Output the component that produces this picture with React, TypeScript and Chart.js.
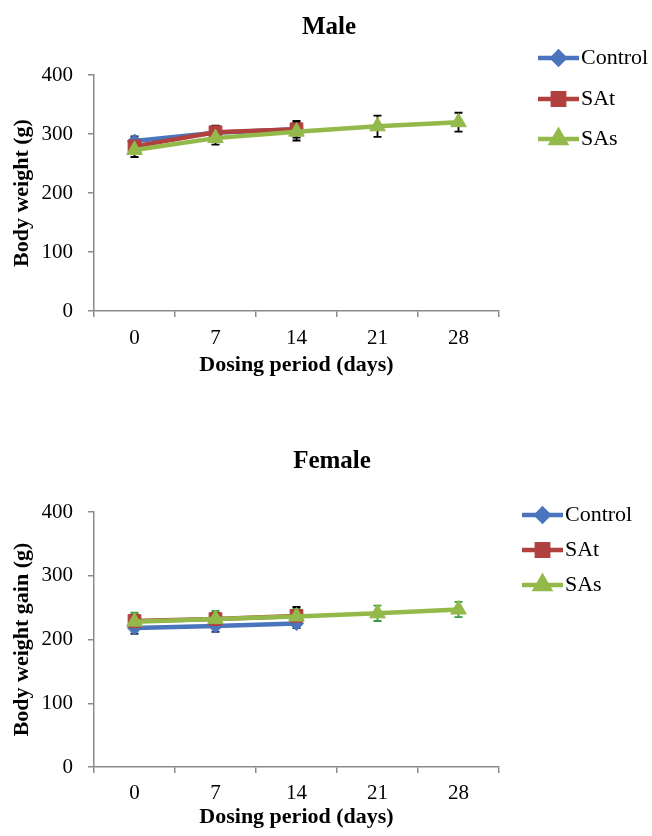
import React, { useEffect, useRef } from 'react';
import { Chart, registerables } from 'chart.js';
import { drawPoint } from 'chart.js/helpers';

Chart.register(...registerables);

// ---- data ----
const days = ['0', '7', '14', '21', '28'];
const seriesNames = ['Control', 'SAt', 'SAs'];

const maleControl = [288, 302, 308, null, null];
const maleControlErr = [8, 8, 10, null, null];
const maleSAt = [279, 303, 308, null, null];
const maleSAtErr = [8, 11, 14, null, null];
const maleSAs = [273, 293, 304, 313, 320];
const maleSAsErr = [12, 11, 15, 18, 16];

const femaleControl = [218, 221, 225, null, null];
const femaleControlErr = [9, 9, 7, null, null];
const femaleSAt = [229, 232, 237, null, null];
const femaleSAtErr = [10, 10, 14, null, null];
const femaleSAs = [228, 232, 236, 241, 247];
const femaleSAsErr = [14, 13, 12, 12, 12];

const yMin = 0;
const yMax = 400;
const yStep = 100;

// ---- styles ----
const FONT = "'Times New Roman', 'Liberation Serif', serif";
const AXIS = '#8a8a8a';
const COLORS = ['#4A74BC', '#B0413E', '#93B94B'];
const POINT_STYLES = ['rectRot', 'rect', 'triangle'];
const POINT_RADII = [7, 9, 9];

const errorBarPlugin = {
  id: 'errorBars',
  beforeDatasetsDraw(chart: any) {
    const ctx = chart.ctx;
    const yScale = chart.scales.y;
    chart.data.datasets.forEach((ds: any, i: number) => {
      const errs = ds.errors;
      if (!errs) return;
      const meta = chart.getDatasetMeta(i);
      ctx.save();
      ctx.strokeStyle = ds.errorColor;
      ctx.lineWidth = 1.8;
      meta.data.forEach((pt: any, j: number) => {
        const v = ds.data[j];
        const e = errs[j];
        if (v == null || e == null) return;
        const x = pt.x;
        const yt = yScale.getPixelForValue(v + e);
        const yb = yScale.getPixelForValue(v - e);
        ctx.beginPath();
        ctx.moveTo(x, yt);
        ctx.lineTo(x, yb);
        ctx.moveTo(x - 4, yt);
        ctx.lineTo(x + 4, yt);
        ctx.moveTo(x - 4, yb);
        ctx.lineTo(x + 4, yb);
        ctx.stroke();
      });
      ctx.restore();
    });
  },
};

const sideLegendPlugin = {
  id: 'sideLegend',
  afterDraw(chart: any, _args: any, opts: any) {
    const ctx = chart.ctx;
    const ds = chart.data.datasets;
    opts.ys.forEach((y: number, i: number) => {
      const d = ds[i];
      ctx.save();
      ctx.strokeStyle = d.borderColor;
      ctx.lineWidth = 4.5;
      ctx.beginPath();
      ctx.moveTo(opts.x0, y);
      ctx.lineTo(opts.x0 + opts.len, y);
      ctx.stroke();
      ctx.fillStyle = d.backgroundColor;
      ctx.strokeStyle = d.borderColor;
      drawPoint(ctx, { pointStyle: d.pointStyle, radius: d.pointRadius - 1, rotation: 0, borderWidth: 1 }, opts.x0 + opts.len / 2, y);
      ctx.fillStyle = '#000';
      ctx.font = `22px ${FONT}`;
      ctx.textAlign = 'left';
      ctx.textBaseline = 'middle';
      ctx.fillText(seriesNames[i], opts.x0 + opts.len + 2, y);
      ctx.restore();
    });
  },
};

const panelTitlePlugin = {
  id: 'panelTitle',
  afterDraw(chart: any, _args: any, opts: any) {
    const ctx = chart.ctx;
    ctx.save();
    ctx.fillStyle = '#000';
    ctx.font = `bold 25px ${FONT}`;
    ctx.textAlign = 'center';
    ctx.textBaseline = 'middle';
    ctx.fillText(opts.text, opts.x, opts.y);
    ctx.restore();
  },
};

interface Panel {
  title: string;
  titleX: number;
  titleY: number;
  yTitle: string;
  series: (number | null)[][];
  errors: (number | null)[][];
  errorColors: string[];
  height: number;
  plotTop: number;
  plotBottom: number;
  xTickPad: number;
  xTitlePad: number;
  legendX: number;
  legendLen: number;
  legendYs: number[];
}

function makeConfig(p: Panel): any {
  return {
    type: 'line',
    data: {
      labels: days,
      datasets: p.series.map((s, i) => ({
        label: seriesNames[i],
        data: s,
        errors: p.errors[i],
        errorColor: p.errorColors[i],
        borderColor: COLORS[i],
        backgroundColor: COLORS[i],
        pointBackgroundColor: COLORS[i],
        pointBorderColor: COLORS[i],
        pointStyle: POINT_STYLES[i],
        pointRadius: POINT_RADII[i],
        pointBorderWidth: 1,
        borderWidth: 4.5,
        tension: 0,
        order: 2 - i,
      })),
    },
    options: {
      responsive: false,
      animation: false,
      events: [],
      layout: { padding: { left: 0, right: 153, top: p.plotTop, bottom: 0 } },
      plugins: {
        legend: { display: false },
        tooltip: { enabled: false },
        panelTitle: { text: p.title, x: p.titleX, y: p.titleY },
        sideLegend: { x0: p.legendX, len: p.legendLen, ys: p.legendYs },
      },
      scales: {
        x: {
          type: 'category',
          offset: true,
          grid: {
            offset: true,
            drawOnChartArea: false,
            drawTicks: true,
            tickLength: 6,
            color: AXIS,
            lineWidth: 1.5,
          },
          border: { color: AXIS, width: 1.5 },
          ticks: {
            color: '#000',
            font: { family: FONT, size: 21 },
            padding: p.xTickPad,
            maxRotation: 0,
            autoSkip: false,
          },
          title: {
            display: true,
            text: 'Dosing period (days)',
            color: '#000',
            font: { family: FONT, size: 22, weight: 'bold' },
            padding: { top: 0, bottom: p.xTitlePad },
          },
          afterFit: (s: any) => {
            s.height = p.height - p.plotBottom;
          },
        },
        y: {
          min: yMin,
          max: yMax,
          grid: {
            drawOnChartArea: false,
            drawTicks: true,
            tickLength: 6,
            color: AXIS,
            lineWidth: 1.5,
          },
          border: { color: AXIS, width: 1.5 },
          ticks: {
            stepSize: yStep,
            color: '#000',
            font: { family: FONT, size: 21 },
            padding: 15,
          },
          title: {
            display: true,
            text: p.yTitle,
            color: '#000',
            font: { family: FONT, size: 22, weight: 'bold' },
            padding: { top: 9.5, bottom: 0 },
          },
          afterFit: (s: any) => {
            s.width = 94;
          },
        },
      },
    },
    plugins: [errorBarPlugin, sideLegendPlugin, panelTitlePlugin],
  };
}

const malePanel: Panel = {
  title: 'Male',
  titleX: 329,
  titleY: 28,
  yTitle: 'Body weight (g)',
  series: [maleControl, maleSAt, maleSAs],
  errors: [maleControlErr, maleSAtErr, maleSAsErr],
  errorColors: ['#000', '#000', '#000'],
  height: 410,
  plotTop: 75,
  plotBottom: 311,
  xTickPad: 9,
  xTitlePad: 31.8,
  legendX: 538,
  legendLen: 41,
  legendYs: [58, 99, 139],
};

const femalePanel: Panel = {
  title: 'Female',
  titleX: 332,
  titleY: 52,
  yTitle: 'Body weight gain (g)',
  series: [femaleControl, femaleSAt, femaleSAs],
  errors: [femaleControlErr, femaleSAtErr, femaleSAsErr],
  errorColors: ['#1f2a44', '#000', '#3E9B3E'],
  height: 426,
  plotTop: 102,
  plotBottom: 357,
  xTickPad: 7.4,
  xTitlePad: 5.8,
  legendX: 522,
  legendLen: 41,
  legendYs: [105, 140, 175],
};

function PanelChart({ panel, top }: { panel: Panel; top: number }) {
  const ref = useRef<HTMLCanvasElement | null>(null);
  useEffect(() => {
    if (!ref.current) return;
    const chart = new Chart(ref.current, makeConfig(panel));
    return () => chart.destroy();
  }, [panel]);
  return (
    <canvas
      ref={ref}
      width={652}
      height={panel.height}
      style={{ position: 'absolute', left: 0, top, width: 652, height: panel.height, display: 'block' }}
    />
  );
}

export default function App() {
  return (
    <div style={{ position: 'absolute', left: 0, top: 0, width: 652, height: 836, background: '#fff', overflow: 'hidden' }}>
      <PanelChart panel={malePanel} top={0} />
      <PanelChart panel={femalePanel} top={410} />
    </div>
  );
}
